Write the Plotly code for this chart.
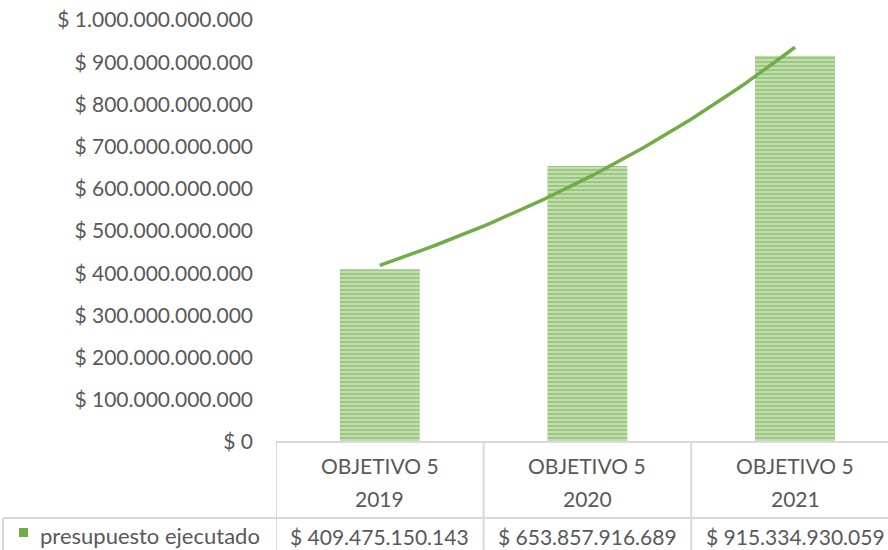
import numpy as np
import plotly.graph_objects as go

# ── data ────────────────────────────────────────────────────────────────
anios   = ["2019", "2020", "2021"]
grupo   = ["OBJETIVO 5", "OBJETIVO 5", "OBJETIVO 5"]
valores = [409475150143, 653857916689, 915334930059]
serie   = "presupuesto ejecutado"
y_ticks = [i * 100000000000 for i in range(11)]

W, H = 888, 550
L, R, T, B = 276, 0, 20, 550 - 442
GREEN  = "#70AD47"
GRID   = "#D9D9D9"
TXT    = "#595959"
FONT   = "Lato"
FS     = 21

def px(x):   # pixel -> paper x
    return (x - L) / (W - L - R)

def py(y):   # pixel -> paper y
    return (H - B - y) / (H - T - B)

def fmt(v):
    return "$ " + f"{v:,}".replace(",", ".")

xs = list(range(len(valores)))

fig = go.Figure()
fig.add_trace(go.Bar(
    x=xs, y=valores, width=0.385, name=serie, showlegend=False,
    marker=dict(color="#CBE3BB", line=dict(width=0),
                pattern=dict(shape="-", size=4, solidity=0.6,
                             fgcolor=GREEN, bgcolor="#CBE3BB",
                             fillmode="overlay")),
))

# excel exponential trendline fitted on the bar values
b, a = np.polyfit(np.array(xs) + 1, np.log(valores), 1)
tx = np.linspace(1, len(valores), 60)
fig.add_trace(go.Scatter(x=tx - 1, y=np.exp(a + b * tx), mode="lines",
                         line=dict(color=GREEN, width=3.5), showlegend=False,
                         hoverinfo="skip"))

# ── data table under the plot ──────────────────────────────────────────
line = dict(color=GRID, width=2)
shapes = [
    dict(type="line", xref="paper", yref="paper", x0=0, x1=1.05, y0=0, y1=0, line=line),
    dict(type="line", xref="paper", yref="paper", x0=px(3), x1=1.05, y0=py(518), y1=py(518), line=line),
    dict(type="line", xref="paper", yref="paper", x0=px(3), x1=px(3), y0=py(518), y1=py(570), line=line),
]
for k in range(len(valores)):
    shapes.append(dict(type="line", xref="x", yref="paper", x0=k - 0.5, x1=k - 0.5,
                       y0=0, y1=py(570), line=line))
# legend key
shapes.append(dict(type="rect", xref="paper", yref="paper", x0=px(19), x1=px(28),
                   y0=py(528), y1=py(537), fillcolor=GREEN, line=dict(width=0)))

ann = []
for k, (g, yr, v) in enumerate(zip(grupo, anios, valores)):
    for txt, ypix in ((g, 466), (yr, 498), (fmt(v), 536)):
        ann.append(dict(x=k, xref="x", y=py(ypix), yref="paper", text=txt,
                        showarrow=False, xanchor="center", yanchor="middle",
                        font=dict(family=FONT, size=FS, color=TXT)))
ann.append(dict(x=px(38), xref="paper", y=py(535), yref="paper", text=serie,
                showarrow=False, xanchor="left", yanchor="middle",
                font=dict(family=FONT, size=22, color=TXT)))

fig.update_layout(
    width=W, height=H, margin=dict(l=L, r=R, t=T, b=B),
    plot_bgcolor="white", paper_bgcolor="white",
    shapes=shapes, annotations=ann,
    font=dict(family=FONT, size=FS, color=TXT),
    xaxis=dict(range=[-0.5, 2.448], showticklabels=False, showgrid=False,
               zeroline=False, showline=False, fixedrange=True),
    yaxis=dict(range=[0, 1e12], tickmode="array", tickvals=y_ticks,
               ticktext=[fmt(v) for v in y_ticks], ticklabeloverflow="allow",
               showgrid=False, zeroline=False, showline=False,
               ticklabelstandoff=22, tickfont=dict(family=FONT, size=FS, color=TXT)),
)

# body margin 0 so the 888x550 figure fills the window exactly
fig.write_html("out.html", config={"displayModeBar": False},
               post_script="document.body.style.margin='0';")
